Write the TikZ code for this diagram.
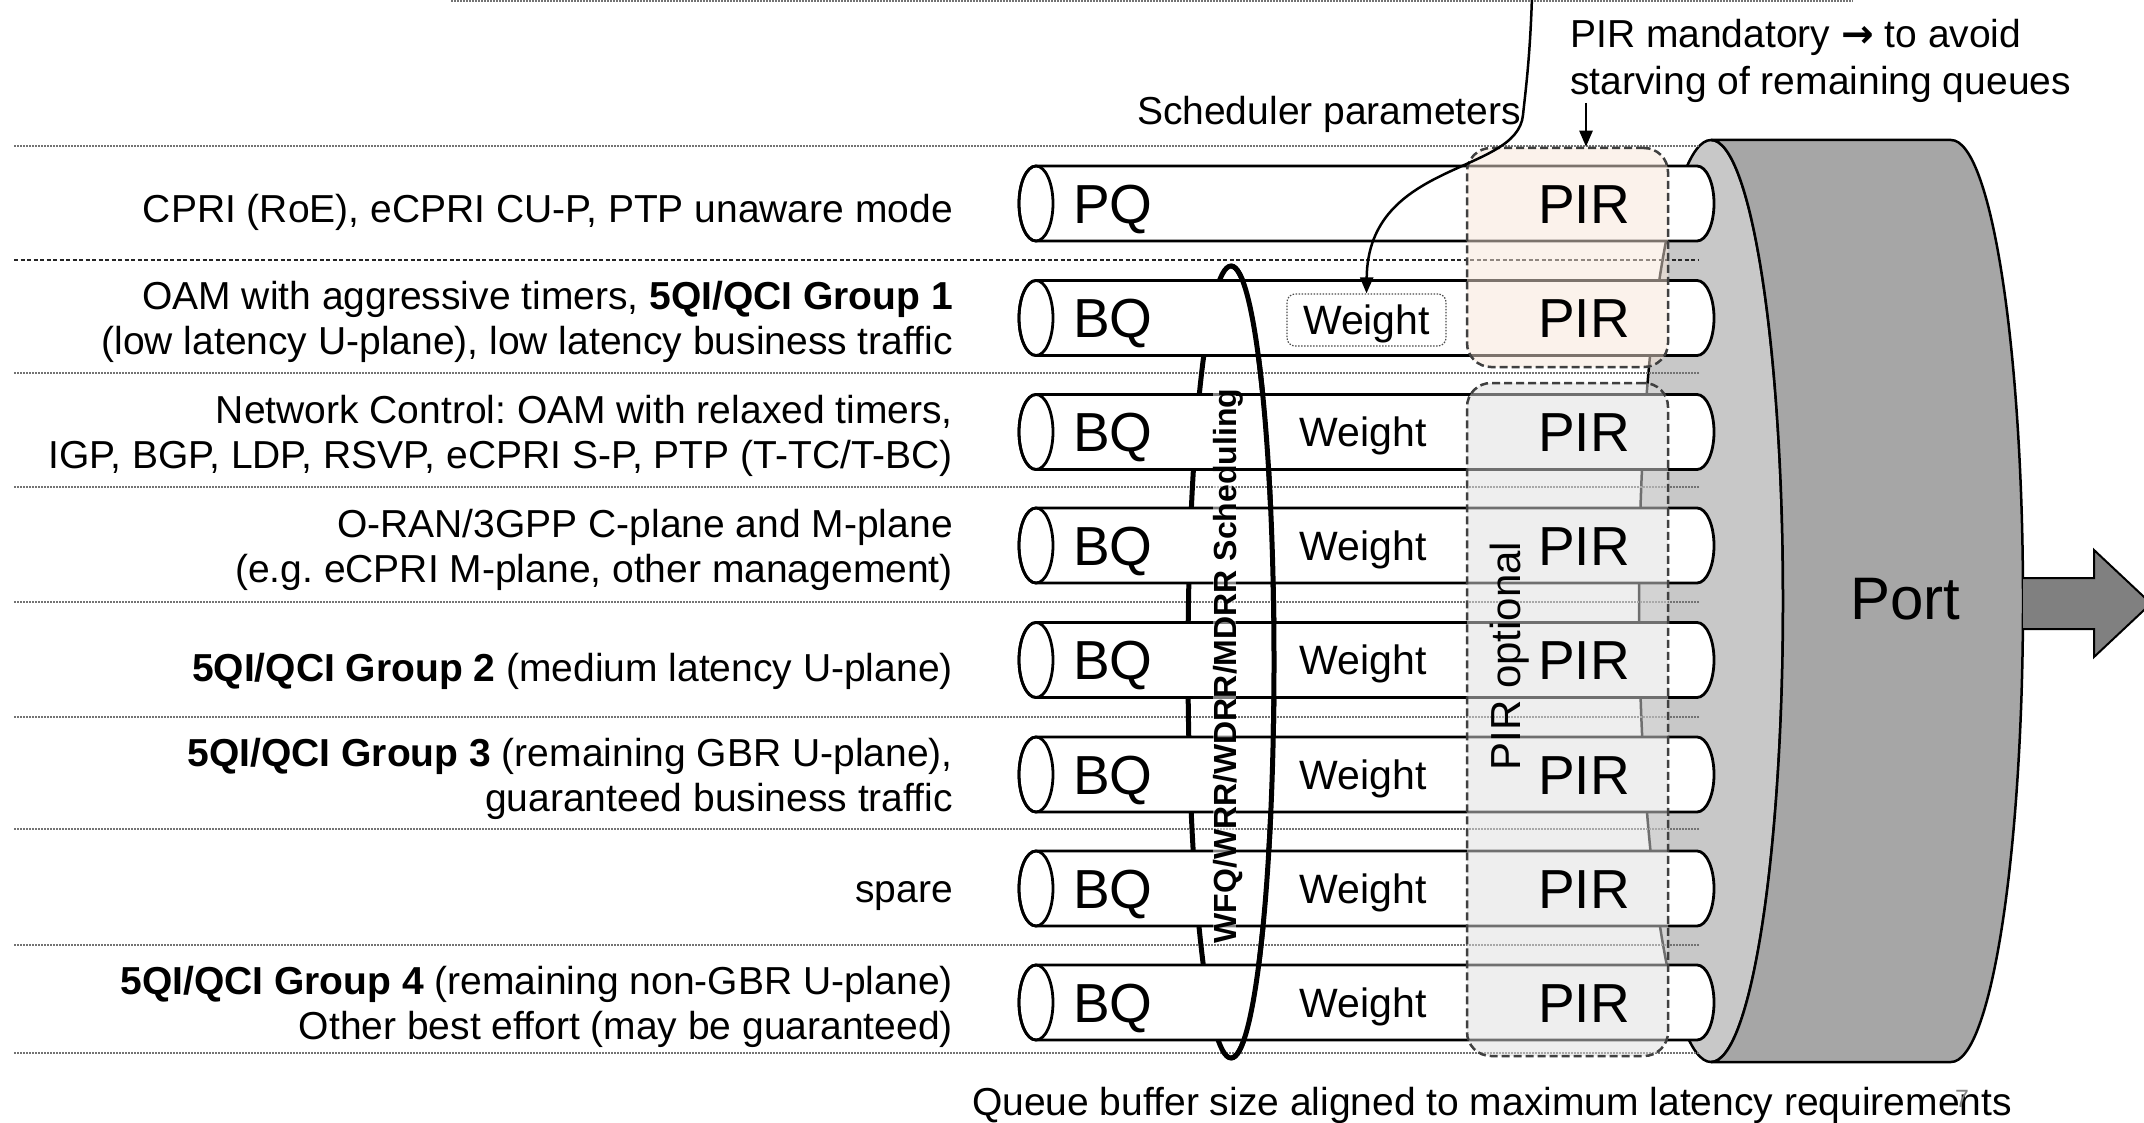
\documentclass[tikz,border=0pt]{standalone}
\usepackage{fontspec}
\setmainfont{Liberation Sans}
\newfontfamily\arrowfont{DejaVu Sans}
\usetikzlibrary{arrows.meta}
\definecolor{facegray}{HTML}{C8C8C8}
\definecolor{sidegray}{HTML}{A6A6A6}
\definecolor{arrowgray}{HTML}{808080}
\definecolor{peach}{RGB}{248,230,217}
\definecolor{boxgray}{RGB}{222,222,222}
\definecolor{dashgray}{HTML}{404040}
\frenchspacing
\begin{document}
\begin{tikzpicture}[x=1pt,y=1pt,
  sep/.style={line width=1.5pt, black!55, dash pattern=on 1.5pt off 1.5pt},
  sepdash/.style={line width=2pt, black!85, dash pattern=on 4pt off 2.5pt},
  pipe/.style={line width=2.8pt, fill=white},
  lbl/.style={font=\fontsize{39pt}{45pt}\selectfont, align=right, anchor=east, inner sep=0pt},
  qtxt/.style={font=\fontsize{55pt}{60pt}\selectfont, inner sep=0pt, text height=39.5pt, text depth=0pt},
  wtxt/.style={font=\fontsize{41pt}{46pt}\selectfont, inner sep=0pt, text height=29.5pt, text depth=0pt},
  pirbox/.style={draw=dashgray, line width=2.5pt, dash pattern=on 8pt off 4pt, rounded corners=24pt, fill opacity=0.5, inner sep=0pt},
  conn/.style={line width=2.5pt, -{Triangle[length=16pt, width=13pt]}},
]
\useasboundingbox (0,0) rectangle (2144,-1123);
\fill[white] (0,0) rectangle (2144,-1123);

% top line (cut off)
\draw[sep] (451,-1) -- (1853,-1);

% port cylinder
\filldraw[fill=facegray, line width=2.5pt] (1711,-601) ellipse[x radius=72pt, y radius=461pt];
\filldraw[fill=sidegray, line width=2.5pt] (1711,-140) -- (1951,-140)
  arc[start angle=90, end angle=-90, x radius=72pt, y radius=461pt] -- (1711,-1062)
  arc[start angle=-90, end angle=90, x radius=72pt, y radius=461pt] -- cycle;

% separator lines
\foreach \s in {146,373,487,602,717,829,945,1053} \draw[sep] (14,-\s) -- (1699,-\s);
\draw[sepdash] (14,-260) -- (1699,-260);

% scheduler ellipse (left half ends up behind the pipes)
\draw[line width=5pt] (1231,-662) ellipse[x radius=43pt, y radius=396pt];

% pipes
\foreach \c in {203.5,318,432,545.5,660,774.5,888.5,1002.5} {
  \begin{scope}[yshift=-\c pt]
    \filldraw[pipe] (1036,37.5) -- (1697,37.5)
      arc[start angle=90, end angle=-90, x radius=17pt, y radius=37.5pt] -- (1036,-37.5)
      arc[start angle=270, end angle=90, x radius=17pt, y radius=37.5pt] -- cycle;
    \draw[line width=2.8pt] (1036,0) ellipse[x radius=17pt, y radius=37.5pt];
  \end{scope}
}

% right half of the scheduler ellipse, in front of the pipes
\draw[line width=5pt] (1231,-266) arc[start angle=90, end angle=-90, x radius=43pt, y radius=396pt];

% PIR boxes
\node[pirbox, fill=peach, minimum width=201pt, minimum height=219pt] (pirm) at (1567.5,-257.5) {};
\node[pirbox, fill=boxgray, minimum width=201pt, minimum height=673pt] (piro) at (1567.5,-719.5) {};

% texts in pipes
\foreach \c/\q [count=\i] in {203.5/PQ,318/BQ,432/BQ,545.5/BQ,660/BQ,774.5/BQ,888.5/BQ,1002.5/BQ} {
  \node[qtxt, anchor=west] (q\i) at (1073,-\c) {\q};
  \node[qtxt] (p\i) at (1584,-\c) {PIR};
}
\foreach \c [count=\i from 3] in {432,545.5,660,774.5,888.5,1002.5}
  \node[wtxt] (w\i) at (1363,-\c) {Weight};
\node[wtxt, draw=black!70, line width=1.2pt, dash pattern=on 1.5pt off 1.5pt, rounded corners=8pt,
  minimum width=159pt, minimum height=52pt] (wbox) at (1366.5,-320) {Weight};

% rotated texts
\node[font=\bfseries\fontsize{32pt}{36pt}\selectfont, rotate=90, inner sep=0pt, text height=23pt, text depth=0pt,
  fill=white, fill opacity=0.5, text opacity=1] (sched) at (1224.5,-666) {WFQ/WRR/WDRR/MDRR Scheduling};
\node[font=\fontsize{42pt}{46pt}\selectfont, rotate=90, inner sep=0pt, text height=30pt, text depth=0pt] (piropt) at (1505,-656) {PIR optional};

% port label
\node[font=\fontsize{60pt}{64pt}\selectfont, inner sep=0pt, text height=43pt, text depth=0pt] (port) at (1905,-598) {Port};

% left labels
\node[lbl] (l1) at (953,-212.5) {CPRI (RoE), eCPRI CU-P, PTP unaware mode};
\node[lbl] (l2) at (953,-322) {OAM with aggressive timers, \textbf{5QI/QCI Group 1}\\(low latency U-plane), low latency business traffic};
\node[lbl] (l3) at (953,-436) {Network Control: OAM with relaxed timers,\\IGP, BGP, LDP, RSVP, eCPRI S-P, PTP (T-TC/T-BC)};
\node[lbl] (l4) at (953,-549.5) {O-RAN/3GPP C-plane and M-plane\\(e.g. eCPRI M-plane, other management)};
\node[lbl] (l5) at (953,-671) {\textbf{5QI/QCI Group 2} (medium latency U-plane)};
\node[lbl] (l6) at (953,-778.5) {\textbf{5QI/QCI Group 3} (remaining GBR U-plane),\\guaranteed business traffic};
\node[lbl] (l7) at (953,-896) {spare};
\node[lbl] (l8) at (953,-1006.5) {\textbf{5QI/QCI Group 4} (remaining non-GBR U-plane)\\Other best effort (may be guaranteed)};

% annotations
\node[font=\fontsize{39pt}{45pt}\selectfont, inner sep=0pt, anchor=base east] (schedpar) at (1521,-125) {Scheduler parameters};
\node[font=\fontsize{39pt}{47pt}\selectfont, inner sep=0pt, align=left, anchor=west] (mand) at (1570,-61) {PIR mandatory {\arrowfont\bfseries →} to avoid\\starving of remaining queues};
\node[font=\fontsize{39pt}{45pt}\selectfont, inner sep=0pt, anchor=base] (qbuf) at (1492,-1115) {Queue buffer size aligned to maximum latency requirements};
\node[font=\fontsize{25pt}{28pt}\selectfont, text=black!50, inner sep=0pt, anchor=base] (pgno) at (1962,-1107) {7};

% connectors
\coordinate (ctop) at (1532,4);
\draw[conn] (ctop) .. controls (1530,-60) and (1525,-95) .. (1523,-115)
  .. controls (1517,-175) and (1368,-160) .. (wbox.north);
\coordinate (mtop) at (1586,-103);
\draw[conn] (mtop) -- (mtop |- pirm.north);

% output arrow
\filldraw[fill=arrowgray, line width=2pt] (2023,-578) -- (2094,-578) -- (2094,-550) -- (2151,-603.5)
  -- (2094,-657) -- (2094,-629) -- (2023,-629);
\end{tikzpicture}
\end{document}
